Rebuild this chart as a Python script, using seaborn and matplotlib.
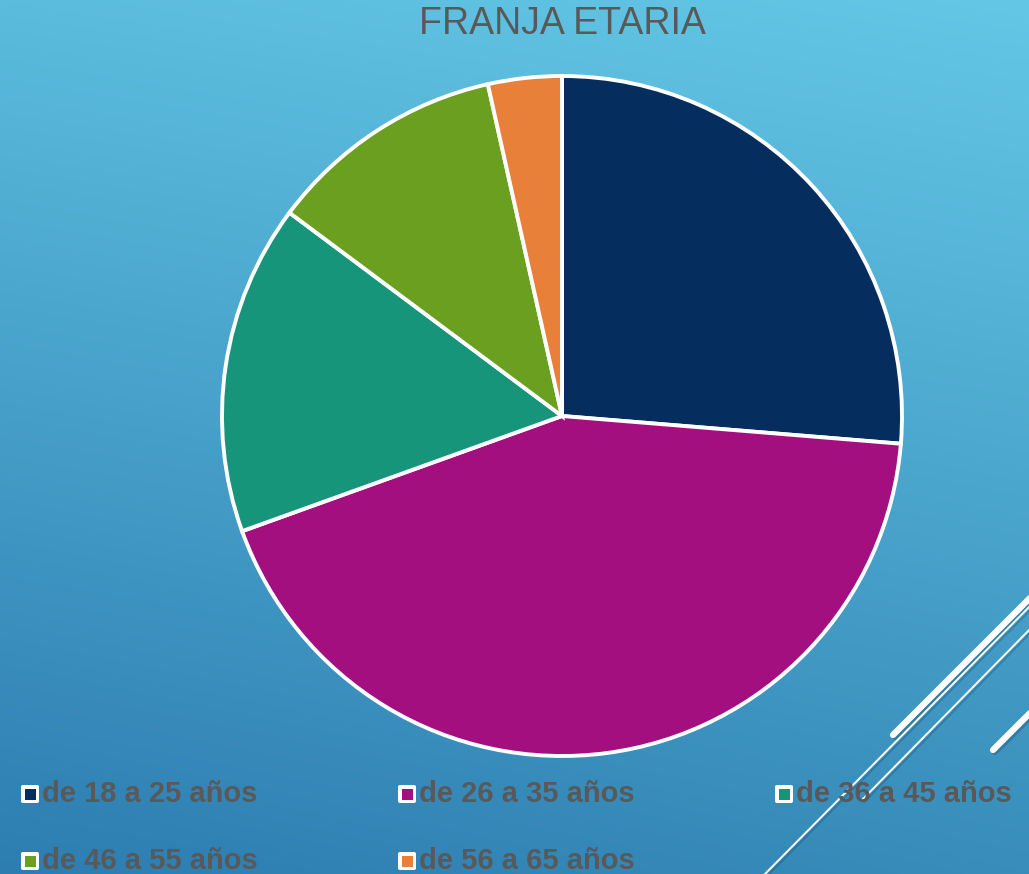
import numpy as np
import seaborn as sns
import matplotlib.pyplot as plt
from matplotlib.patches import FancyBboxPatch
from matplotlib.lines import Line2D
import matplotlib.patheffects as pe

# data
labels = ["de 18 a 25 años", "de 26 a 35 años", "de 36 a 45 años",
          "de 46 a 55 años", "de 56 a 65 años"]
shares = [26.3, 43.2, 15.7, 11.3, 3.5]
colors = ["#052E5E", "#A30F7F", "#16957A", "#6A9F20", "#E8803A"]
title = "FRANJA ETARIA"

sns.set_theme(style="white")
plt.rcParams['font.family'] = ['Liberation Sans', 'DejaVu Sans']

W, H = 1029, 874
fig = plt.figure(figsize=(W / 100, H / 100), dpi=100)

# background gradient (four corner colours)
tl = np.array([0x5B, 0xBC, 0xDD]) / 255
tr = np.array([0x64, 0xC7, 0xE6]) / 255
bl = np.array([0x2D, 0x7D, 0xB1]) / 255
br = np.array([0x38, 0x8D, 0xBA]) / 255
yy, xx = np.mgrid[0:1:200j, 0:1:240j]
xx = xx[..., None]
yy = yy[..., None]
grad = (1 - yy) * ((1 - xx) * tl + xx * tr) + yy * ((1 - xx) * bl + xx * br)
bg = fig.add_axes([0, 0, 1, 1])
bg.imshow(grad, aspect="auto", extent=[0, 1, 0, 1], interpolation="bicubic")
bg.set_xlim(0, 1)
bg.set_ylim(0, 1)
bg.axis("off")


def fx(px):
    return px / W


def fy(py):
    return 1 - py / H


# decorative lines
shadow = [pe.SimpleLineShadow(offset=(1.5, -1.5), shadow_color="#1b4f70", alpha=0.35), pe.Normal()]
deco = [((893, 735), (1040, 588), 4.5),
        ((993, 750), (1040, 703), 4.5),
        ((765, 874), (1035, 601), 1.4),
        ((862, 800), (1035, 624), 1.4)]
for (x0, y0), (x1, y1), lw in deco:
    ln = Line2D([fx(x0), fx(x1)], [fy(y0), fy(y1)], color="white", lw=lw,
                solid_capstyle="round", transform=fig.transFigure,
                path_effects=shadow)
    fig.add_artist(ln)

# pie
cx, cy, r = 562, 416, 340
pad = 6
ax = fig.add_axes([fx(cx - r - pad), fy(cy + r + pad),
                   (2 * (r + pad)) / W, (2 * (r + pad)) / H])
ax.pie(shares, colors=colors, startangle=90, counterclock=False, radius=1,
       wedgeprops=dict(edgecolor="white", linewidth=2.8))
lim = (r + pad) / r
ax.set_xlim(-lim, lim)
ax.set_ylim(-lim, lim)
ax.set_aspect("equal")
ax.axis("off")

fig.text(fx(562), fy(24), title, ha="center", va="center",
         fontsize=27, color="#595959")

# legend
pos = [(21, 794), (398, 794), (775, 794), (21, 861), (398, 861)]
for (lx, ly), lab, col in zip(pos, labels, colors):
    outer = FancyBboxPatch((fx(lx), fy(ly + 9)), 18 / W, 18 / H,
                           boxstyle="round,pad=0,rounding_size=0.002",
                           facecolor="white", edgecolor="none",
                           transform=fig.transFigure)
    inner = FancyBboxPatch((fx(lx + 3.5), fy(ly + 5.5)), 11 / W, 11 / H,
                           boxstyle="square,pad=0", facecolor=col,
                           edgecolor="none", transform=fig.transFigure)
    fig.add_artist(outer)
    fig.add_artist(inner)
    fig.text(fx(lx + 21), fy(ly), lab, ha="left", va="center",
             fontsize=21, fontweight="bold", color="#595959")

fig.savefig("out.png", dpi=100)
